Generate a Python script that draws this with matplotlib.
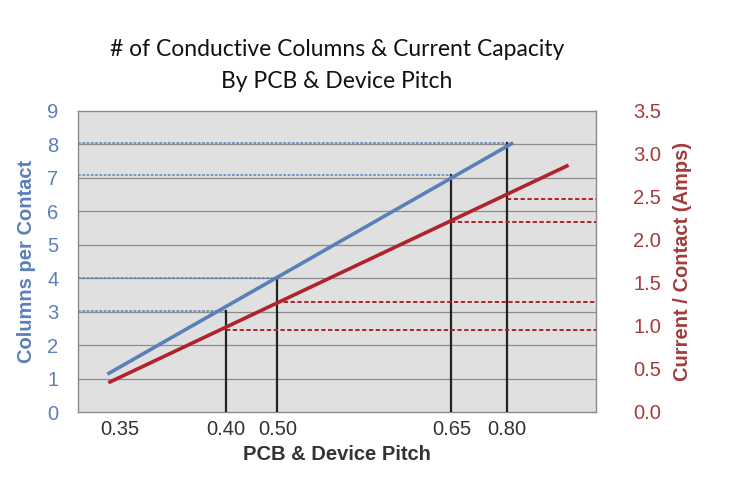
import matplotlib
matplotlib.use("Agg")
import matplotlib.pyplot as plt

# ---- data (x positions are in the chart's own axis units, 0..10) ----
tick_pos = [0.81, 2.86, 3.86, 7.22, 8.28]
tick_labels = ["0.35", "0.40", "0.50", "0.65", "0.80"]

columns_x = [0.566, 8.40]
columns_y = [1.13, 8.05]

current_x = [0.585, 9.47]
current_y = [0.34, 2.87]

marker_x = [2.85, 3.85, 7.21, 8.28]
marker_columns = [3.03, 4.0, 7.09, 8.05]
marker_current = [0.95, 1.28, 2.21, 2.48]

left_ticks = list(range(0, 10))
right_ticks = [0.0, 0.5, 1.0, 1.5, 2.0, 2.5, 3.0, 3.5]

BLUE = "#5a80bb"
RED = "#b0232a"
BLUE_TXT = "#5b7fb9"
RED_TXT = "#a33b3b"

plt.rcParams['font.family'] = ['Liberation Sans', 'DejaVu Sans']

fig = plt.figure(figsize=(7.31, 4.83), dpi=100)
ax = fig.add_axes([78/731, 1-412/483, (596-78)/731, (412-111)/483])
ax.set_facecolor("#e0e0e0")
ax.set_xlim(0, 10)
ax.set_ylim(0, 9)
for s in ax.spines.values():
    s.set_color("#8a8a8a")
    s.set_linewidth(1.0)

# gridlines
for v in range(1, 9):
    ax.axhline(v, color="#8c8c8c", lw=0.9, zorder=1)

ax2 = ax.twinx()
ax2.set_ylim(0, 3.5)
for s in ax2.spines.values():
    s.set_visible(False)

# dashed reference lines
for x, c in zip(marker_x, marker_columns):
    ax.plot([0, x], [c, c], color=BLUE, lw=1.1, ls=(0, (1.8, 1.0)), zorder=2)
for x, r in zip(marker_x, marker_current):
    ax2.plot([x, 10], [r, r], color=RED, lw=1.4, ls=(0, (2.2, 1.3)), zorder=2)
# vertical markers
for x, c in zip(marker_x, marker_columns):
    ax.plot([x, x], [0, c], color="#222222", lw=1.6, zorder=3)

ax.plot(columns_x, columns_y, color=BLUE, lw=2.6, solid_capstyle="butt", zorder=4)
ax2.plot(current_x, current_y, color=RED, lw=2.6, solid_capstyle="butt", zorder=4)

ax.set_yticks(left_ticks)
ax.set_yticklabels([str(t) for t in left_ticks], color=BLUE_TXT, fontsize=14.5)
ax.tick_params(axis="y", length=0, pad=14)
ax2.set_yticks(right_ticks)
ax2.set_yticklabels([f"{t:.1f}" for t in right_ticks], color=RED_TXT, fontsize=14.5)
ax2.tick_params(axis="y", length=0, pad=27)

ax.set_xticks(tick_pos)
ax.set_xticklabels(tick_labels, color="#333333", fontsize=14.5)
ax.tick_params(axis="x", length=0, pad=6)

ax.set_xlabel("PCB & Device Pitch", fontsize=14.5, fontweight="bold", color="#333333", labelpad=4)
ax.set_ylabel("Columns per Contact", fontsize=14.5, fontweight="bold", color=BLUE_TXT, labelpad=8)
ax2.set_ylabel("Current / Contact (Amps)", fontsize=14.5, fontweight="bold", color=RED_TXT, labelpad=8)

fig.text(337/731, 1-50/483, "# of Conductive Columns & Current Capacity", ha="center", va="center",
         fontsize=16.5, family=["Lato", "DejaVu Sans"], color="#111111")
fig.text(337/731, 1-82/483, "By PCB & Device Pitch", ha="center", va="center",
         fontsize=16.5, family=["Lato", "DejaVu Sans"], color="#111111")

fig.savefig("out.png", dpi=100)
